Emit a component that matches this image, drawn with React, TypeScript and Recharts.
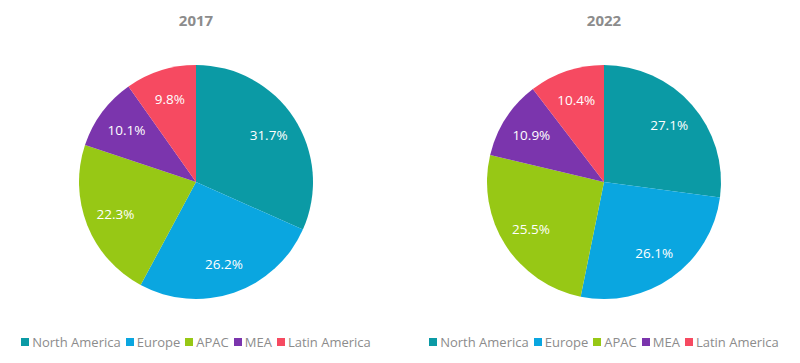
import React from "react";
import { PieChart, Pie, Cell, Legend } from "recharts";

const regions = ["North America", "Europe", "APAC", "MEA", "Latin America"];
const colors = ["#0b9aa5", "#0aa6e0", "#97c815", "#7b35ad", "#f64a61"];
const values2017 = [31.7, 26.2, 22.3, 10.1, 9.8];
const values2022 = [27.1, 26.1, 25.5, 10.9, 10.4];
const titles = ["2017", "2022"];

const FONT = "'Open Sans', 'DejaVu Sans', sans-serif";
const RAD = Math.PI / 180;

const renderLabel = (props: any) => {
  const { cx, cy, midAngle, outerRadius, value } = props;
  const r = outerRadius * 0.74;
  const x = cx + r * Math.cos(-midAngle * RAD);
  const y = cy + r * Math.sin(-midAngle * RAD);
  return (
    <text x={x} y={y} fill="#ffffff" textAnchor="middle" dominantBaseline="central"
      fontFamily={FONT} fontSize={13.5} fontWeight={500}>
      {value.toFixed(1)}%
    </text>
  );
};

const LegendContent = () => (
  <div style={{ display: "flex", justifyContent: "center", fontFamily: FONT, fontSize: 13, color: "#8c8c8c", whiteSpace: "nowrap" }}>
    {regions.map((r, i) => (
      <span key={r} style={{ display: "inline-flex", alignItems: "center", marginRight: i < regions.length - 1 ? 5 : 0 }}>
        <span style={{ display: "inline-block", width: 8, height: 8, background: colors[i], marginRight: 3 }} />
        {r}
      </span>
    ))}
  </div>
);

function OnePie({ values, title, cx }: { values: number[]; title: string; cx: number }) {
  const data = regions.map((name, i) => ({ name, value: values[i] }));
  return (
    <div style={{ position: "relative", width: 400, height: 363 }}>
      <div style={{ position: "absolute", left: cx - 50, width: 100, top: 10, textAlign: "center", fontFamily: FONT, fontSize: 15, fontWeight: 700, color: "#8c8c8c" }}>
        {title}
      </div>
      <PieChart width={400} height={363} margin={{ top: 0, right: 0, bottom: 0, left: 0 }}>
        <Pie
          data={data}
          dataKey="value"
          nameKey="name"
          cx={cx}
          cy={182}
          outerRadius={117}
          startAngle={90}
          endAngle={-270}
          stroke="none"
          label={renderLabel}
          labelLine={false}
          isAnimationActive={false}
        >
          {data.map((d, i) => (
            <Cell key={d.name} fill={colors[i]} />
          ))}
        </Pie>
        <Legend verticalAlign="bottom" align="center" wrapperStyle={{ bottom: 12, left: cx - 200, width: 400 }} content={<LegendContent />} />
      </PieChart>
    </div>
  );
}

export default function App() {
  return (
    <div style={{ position: "absolute", left: 0, top: 0, width: 800, height: 363, background: "#ffffff", display: "flex" }}>
      <OnePie values={values2017} title={titles[0]} cx={196} />
      <OnePie values={values2022} title={titles[1]} cx={204} />
    </div>
  );
}
